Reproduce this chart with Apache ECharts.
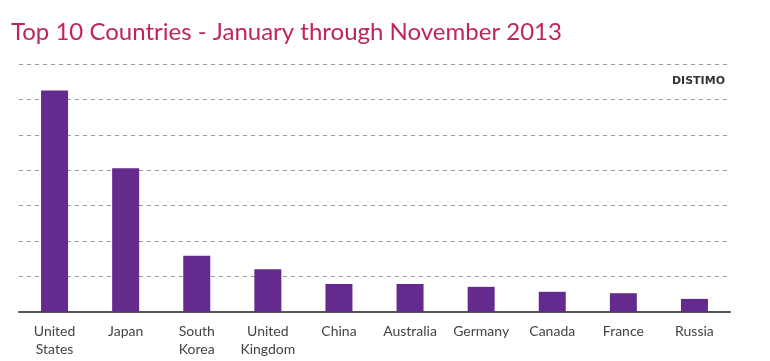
<!DOCTYPE html>
<html><head><meta charset="utf-8">
<script src="https://cdn.jsdelivr.net/npm/echarts@6/dist/echarts.min.js"></script>
<style>html,body{margin:0;padding:0;background:#fff}#c{width:770px;height:361px}</style>
</head><body><div id="c"></div>
<script>
const categories = ['United\nStates','Japan','South\nKorea','United\nKingdom','China','Australia','Germany','Canada','France','Russia'];
const values = [6.25, 4.06, 1.59, 1.21, 0.79, 0.79, 0.71, 0.57, 0.53, 0.37];
const titleText = 'Top 10 Countries - January through November 2013';
const chart = echarts.init(document.getElementById('c'));
chart.setOption({
  animation: false,
  title: { text: titleText, left: 6, top: 15,
    textStyle: { color: '#c0245c', fontSize: 24, fontWeight: 'normal', fontFamily: 'Lato' } },
  graphic: [{ type: 'text', right: 45, top: 76,
    style: { text: 'DISTIMO', fill: '#333', font: 'bold 11px "DejaVu Sans"', letterSpacing: 1 } }],
  grid: { left: 19, right: 40, top: 64, bottom: 49 },
  xAxis: { type: 'category', data: categories,
    axisLine: { lineStyle: { color: '#555', width: 2 } },
    axisTick: { show: false },
    axisLabel: { color: '#444', fontSize: 14, lineHeight: 18, margin: 10, fontFamily: 'Lato', interval: 0 } },
  yAxis: { type: 'value', min: 0, max: 7, interval: 1,
    axisLabel: { show: false }, axisLine: { show: false }, axisTick: { show: false },
    splitLine: { lineStyle: { color: '#999', type: [4, 4], width: 1 } } },
  series: [{ type: 'bar', data: values, barWidth: 27, itemStyle: { color: '#652a8e' } }]
});
</script></body></html>
